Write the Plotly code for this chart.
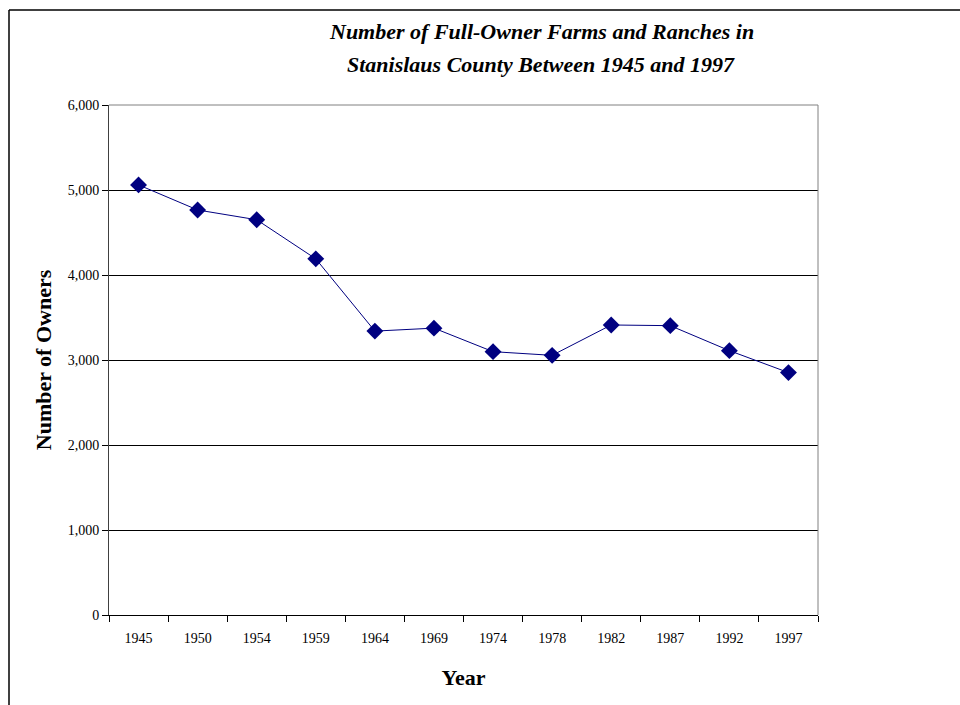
import plotly.graph_objects as go

years = ["1945", "1950", "1954", "1959", "1964", "1969", "1974", "1978", "1982", "1987", "1992", "1997"]
owners = [5060, 4765, 4650, 4190, 3340, 3375, 3098, 3055, 3412, 3404, 3110, 2852]
y_ticks = [0, 1000, 2000, 3000, 4000, 5000, 6000]
y_tick_labels = ["0", "1,000", "2,000", "3,000", "4,000", "5,000", "6,000"]
title_lines = ["Number of Full-Owner Farms and Ranches in", "Stanislaus County Between 1945 and 1997"]

W, H = 960, 705
L, R, T, B = 109, 818, 105, 615

fig = go.Figure()
fig.add_trace(go.Scatter(
    x=years, y=owners, mode="lines+markers",
    line=dict(color="#000080", width=1),
    marker=dict(symbol="diamond", size=13, color="#000080"),
    showlegend=False, cliponaxis=False,
))

serif = "Liberation Serif"

fig.update_layout(
    width=W, height=H,
    margin=dict(l=L, r=W - R, t=T, b=H - B, pad=0),
    paper_bgcolor="white", plot_bgcolor="white",
    font=dict(family=serif, color="black", size=14),
    xaxis=dict(
        type="category", tickson="boundaries", ticks="outside", ticklen=6,
        range=[-0.5, len(years) - 0.5], ticklabelstandoff=10,
        tickcolor="black", showline=True, linecolor="black", linewidth=1,
        showgrid=False, tickfont=dict(family=serif, size=14), mirror=False,
        title=dict(text="<b>Year</b>", font=dict(family=serif, size=22), standoff=24),
    ),
    yaxis=dict(
        range=[0, 6000], tickvals=y_ticks, ticktext=y_tick_labels,
        ticks="outside", ticklen=6, tickcolor="black",
        showline=True, linecolor="#404040", linewidth=1,
        showgrid=True, gridcolor="black", gridwidth=1,
        tickfont=dict(family=serif, size=14), zeroline=False,
        title=dict(text="<b>Number of Owners</b>", font=dict(family=serif, size=22), standoff=10),
    ),
)

# gray frame on top/right of plot area
fig.add_shape(type="line", xref="paper", yref="paper", x0=0, x1=1, y0=1, y1=1,
              line=dict(color="#808080", width=1))
fig.add_shape(type="line", xref="paper", yref="paper", x0=1, x1=1, y0=0, y1=1,
              line=dict(color="#808080", width=1))

# outer chart border (left and top)
pw, ph = R - L, B - T
def px(x):
    return (x - L) / pw
def py(y):
    return (B - y) / ph
fig.add_shape(type="line", xref="paper", yref="paper", x0=px(9), x1=px(9), y0=py(10), y1=py(720),
              line=dict(color="black", width=1.5))
fig.add_shape(type="line", xref="paper", yref="paper", x0=px(9), x1=px(980), y0=py(10), y1=py(10),
              line=dict(color="black", width=1.5))

for line, yc in zip(title_lines, [31, 64]):
    fig.add_annotation(
        xref="paper", yref="paper", x=px(541), y=py(yc), showarrow=False,
        text=f"<b><i>{line}</i></b>", yanchor="middle",
        font=dict(family=serif, size=22, color="black"), align="center",
    )

fig.write_html("out.html")
